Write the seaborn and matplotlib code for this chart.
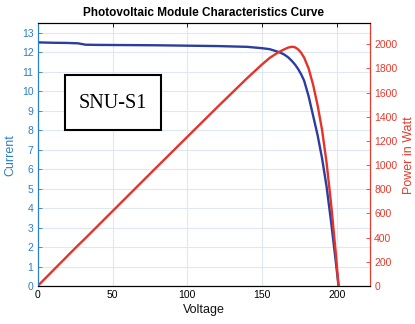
import matplotlib
matplotlib.use("Agg")
import matplotlib.pyplot as plt
from matplotlib.patches import Rectangle
import seaborn as sns
import pandas as pd

voltage = [0, 10, 20, 27, 32, 40, 60, 80, 100, 120, 140, 150, 155, 160, 162.5, 165,
           167.5, 170, 172, 174, 176, 178, 181, 184, 187, 190, 193, 196, 199, 201]
current = [12.52, 12.50, 12.49, 12.47, 12.40, 12.39, 12.38, 12.37, 12.35, 12.33,
           12.29, 12.22, 12.17, 12.05, 11.98, 11.88, 11.74, 11.55, 11.37, 11.15,
           10.88, 10.55, 9.75, 8.75, 7.75, 6.55, 5.10, 3.30, 1.35, 0.0]
power = [0, 125, 250, 337, 397, 496, 743, 990, 1235, 1480, 1721, 1835, 1888,
         1928, 1945, 1960, 1974, 1980, 1975, 1958, 1930, 1890, 1800, 1665, 1495,
         1290, 1020, 680, 290, 0]

x_ticks = [0, 50, 100, 150, 200]
left_ticks = list(range(0, 14))
right_ticks = list(range(0, 2001, 200))
label_text = "SNU-S1"

df = pd.DataFrame({"Voltage": voltage, "Current": current, "Power": power})

sns.set_style("white")
plt.rcParams["font.family"] = ["Liberation Sans", "DejaVu Sans"]

BLUE_AX = "#2a7fc6"
BLUE_LINE = "#2b3d9e"
RED_AX = "#e8392c"
RED_LINE = "#e5322a"
GRID = "#dfe8f1"

fig = plt.figure(figsize=(4.15, 3.24), dpi=100)
ax = fig.add_axes([37.7 / 415, 1 - 286 / 324, (370 - 37.7) / 415, (286 - 23.3) / 324])
ax2 = ax.twinx()

sns.lineplot(data=df, x="Voltage", y="Current", ax=ax, color=BLUE_LINE,
             linewidth=1.7, sort=False)
sns.lineplot(data=df, x="Voltage", y="Power", ax=ax2, color=RED_LINE,
             linewidth=1.7, sort=False)

ax.set_xlim(0, 222)
ax.set_ylim(0, 13.5)
ax2.set_ylim(0, 2174)
ax.set_xticks(x_ticks)
ax.set_yticks(left_ticks)
ax2.set_yticks(right_ticks)

ax.grid(True, color=GRID, linewidth=0.8)
ax.set_axisbelow(True)

ax.tick_params(axis="x", direction="in", length=3, width=0.6, colors="black",
               labelsize=7.5, top=True, pad=3)
ax.tick_params(axis="y", direction="in", length=3, width=0.6, colors=BLUE_AX,
               labelsize=7.5, pad=3)
ax2.tick_params(axis="y", direction="in", length=3, width=0.6, colors=RED_AX,
                labelsize=7.5, pad=3)

for a in (ax, ax2):
    a.spines["top"].set_color("black")
    a.spines["bottom"].set_color("black")
    a.spines["left"].set_color(BLUE_AX)
    a.spines["right"].set_color(RED_AX)
    for s in a.spines.values():
        s.set_linewidth(0.8)

ax.set_xlabel("Voltage", fontsize=9, color="#111111", labelpad=3)
ax.set_ylabel("Current", fontsize=9, color=BLUE_AX, labelpad=4)
ax2.set_ylabel("Power in Watt", fontsize=9, color=RED_AX, labelpad=4)
ax.set_title("Photovoltaic Module Characteristics Curve", fontsize=8.5,
             fontweight="bold", color="black", pad=5)

rect = Rectangle((65 / 415, 1 - 130 / 324), 96 / 415, 55 / 324,
                 transform=fig.transFigure, fill=True, facecolor="white",
                 edgecolor="black", linewidth=1.5, zorder=5)
fig.patches.append(rect)
fig.text(113 / 415, 1 - 103 / 324, label_text, fontsize=14.5, ha="center",
         va="center", family=["Liberation Serif", "DejaVu Serif"], color="black",
         zorder=6)

fig.savefig("out.png", dpi=100)
